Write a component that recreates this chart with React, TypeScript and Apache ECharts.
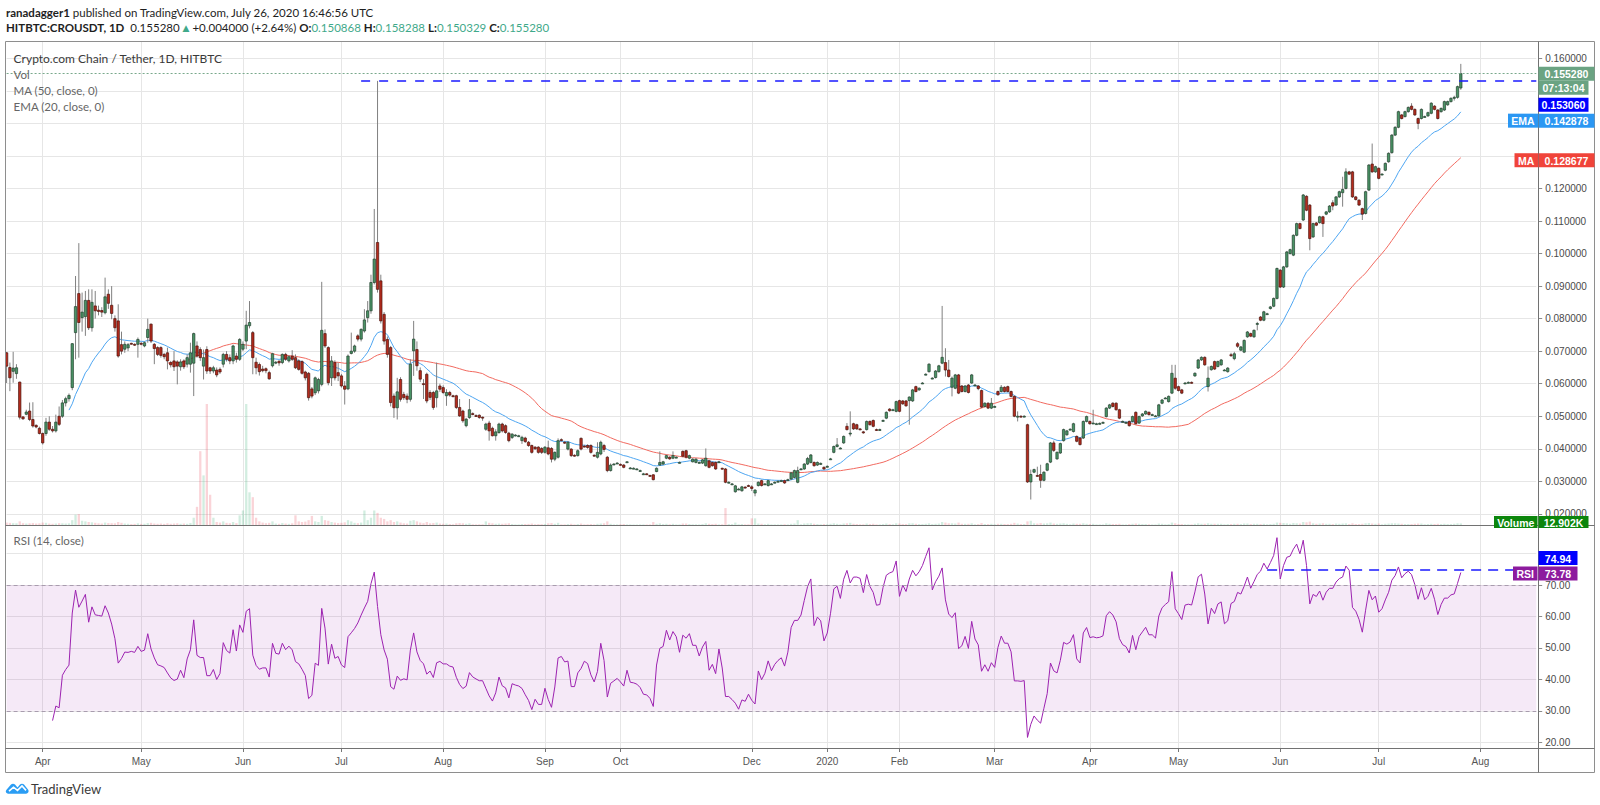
import React, { useEffect, useRef } from 'react';
import * as echarts from 'echarts';

// ---------------- time axis ----------------
const START_DATE = '2019-03-21';
const TOTAL_SLOTS = 467; // 444 daily bars + empty space to the right
const MISSING_DAYS: [string, string][] = [
  ['2019-09-09', '2019-09-15'],
  ['2019-10-25', '2019-11-14'],
  ['2019-12-10', '2019-12-17'],
  ['2020-01-08', '2020-01-16'],
  ['2020-03-06', '2020-03-06'],
  ['2020-03-25', '2020-03-25'],
  ['2020-04-14', '2020-04-16'],
];
const HIDDEN_MONTH_LABELS = ['2019-11'];
const MONTH_NAMES = ['Jan', 'Feb', 'Mar', 'Apr', 'May', 'Jun', 'Jul', 'Aug', 'Sep', 'Oct', 'Nov', 'Dec'];

// ---------------- price bars [open, high, low, close] ----------------
const bars2019Spring: number[][] = [
  [.0695,.0698,.0602,.0654],[.0650,.0665,.0577,.0618],[.0638,.0698,.0603,.0648],[.0631,.0660,.0615,.0649],
  [.0605,.0606,.0490,.0497],[.0498,.0500,.0489,.0492],[.0506,.0520,.0503,.0513],[.0516,.0542,.0485,.0490],
  [.0490,.0543,.0465,.0470],[.0472,.0475,.0463,.0467],[.0463,.0468,.0444,.0447],[.0447,.0450,.0413,.0418],
  [.0447,.0495,.0440,.0482],[.0482,.0500,.0455,.0460],[.0460,.0470,.0450,.0455],[.0455,.0505,.0450,.0482],
  [.0500,.0530,.0470,.0475],[.0500,.0550,.0495,.0541],[.0541,.0560,.0530,.0554],[.0554,.0570,.0545,.0564],
  [.0588,.0725,.0580,.0723],[.0757,.0931,.0675,.0837],[.0877,.1032,.0680,.0788],[.0803,.0880,.0760,.0820],
  [.0806,.0885,.0747,.0856],[.0856,.0890,.0765,.0772],[.0772,.0890,.0760,.0850],[.0839,.0885,.0800,.0824],
  [.0826,.0840,.0810,.0822],[.0825,.0835,.0805,.0820],[.0818,.0926,.0813,.0867],[.0875,.0890,.0830,.0847],
  [.0841,.0900,.0798,.0816],[.0800,.0810,.0760,.0772],[.0793,.0844,.0680,.0685],[.0720,.0760,.0690,.0700],
  [.0706,.0730,.0695,.0721],[.0710,.0725,.0700,.0720],[.0724,.0726,.0720,.0723],[.0721,.0724,.0716,.0720],
  [.0721,.0742,.0680,.0736],[.0724,.0728,.0718,.0723],[.0716,.0730,.0712,.0726],[.0742,.0800,.0726,.0767],
  [.0783,.0785,.0725,.0731],[.0721,.0725,.0660,.0708],[.0711,.0715,.0685,.0690],[.0711,.0715,.0680,.0687],
  [.0690,.0695,.0675,.0683],[.0695,.0711,.0644,.0670],[.0665,.0670,.0650,.0658],[.0670,.0700,.0639,.0652],
  [.0667,.0672,.0598,.0654],[.0652,.0675,.0640,.0667],[.0670,.0675,.0645,.0652],[.0660,.0690,.0650,.0680],
  [.0660,.0726,.0634,.0695],[.0663,.0757,.0562,.0754],[.0716,.0730,.0680,.0685],[.0705,.0712,.0670,.0680],
  [.0654,.0705,.0613,.0680],[.0705,.0715,.0630,.0639],[.0649,.0652,.0630,.0639],[.0639,.0655,.0632,.0649],
  [.0642,.0650,.0620,.0627],[.0644,.0650,.0630,.0636],[.0660,.0695,.0650,.0690],[.0690,.0700,.0668,.0675],
  [.0680,.0690,.0660,.0670],[.0670,.0720,.0660,.0716],[.0685,.0695,.0665,.0675],[.0675,.0740,.0670,.0736],
  [.0706,.0730,.0700,.0721],[.0731,.0824,.0706,.0780],[.0778,.0854,.0770,.0788],[.0757,.0762,.0629,.0680],
  [.0666,.0680,.0629,.0649],[.0659,.0665,.0625,.0637],[.0645,.0655,.0635,.0640],[.0646,.0650,.0632,.0640],
  [.0634,.0640,.0612,.0615],[.0655,.0695,.0650,.0692],[.0666,.0670,.0660,.0666],[.0669,.0672,.0655,.0664],
  [.0665,.0693,.0660,.0690],[.0690,.0695,.0670,.0675],[.0670,.0688,.0665,.0683],[.0685,.0703,.0670,.0675],
  [.0680,.0690,.0645,.0649],[.0670,.0675,.0640,.0644],[.0668,.0672,.0628,.0632],[.0636,.0640,.0610,.0618],
  [.0632,.0636,.0548,.0557],[.0584,.0590,.0555,.0562],[.0572,.0622,.0565,.0618],[.0578,.0618,.0570,.0613],
  [.0598,.0913,.0592,.0764],[.0754,.0767,.0710,.0716],[.0711,.0715,.0595,.0603],[.0618,.0685,.0593,.0670],
  [.0665,.0672,.0610,.0618],[.0634,.0665,.0608,.0624],[.0624,.0630,.0588,.0593],[.0593,.0608,.0536,.0583],
  [.0584,.0690,.0580,.0685],[.0693,.0757,.0690,.0700],[.0700,.0720,.0695,.0716],[.0747,.0752,.0730,.0737],
  [.0737,.0770,.0730,.0767],[.0762,.0829,.0757,.0796],[.0803,.0854,.0788,.0824],[.0824,.0935,.0815,.0911],
  [.0911,.1137,.0905,.0983],[.1034,.15306,.0880,.0890],[.0916,.0935,.0785,.0793],[.0813,.0820,.0720,.0731],
  [.0736,.0745,.0680,.0690],[.0711,.0716,.0530,.0542],[.0562,.0570,.0495,.0526],[.0526,.0618,.0490,.0575],
  [.0613,.0620,.0545,.0552],[.0567,.0575,.0550,.0557],[.0562,.0570,.0540,.0552],[.0552,.0675,.0545,.0660],
  [.0701,.0793,.0624,.0737],[.0705,.0730,.0640,.0655],
];

const bars2019Autumn: number[][] = [
  [.0640,.0650,.0605,.0614],[.0600,.0614,.0553,.0598],[.0629,.0634,.0540,.0547],[.0573,.0580,.0550,.0558],
  [.0573,.0578,.0520,.0527],[.0557,.0665,.0527,.0578],[.0593,.0600,.0575,.0583],[.0588,.0595,.0568,.0573],
  [.0563,.0583,.0532,.0573],[.0573,.0578,.0560,.0565],[.0563,.0566,.0558,.0562],[.0563,.0566,.0522,.0527],
  [.0527,.0553,.0498,.0501],[.0516,.0520,.0480,.0486],[.0471,.0495,.0466,.0491],[.0496,.0553,.0492,.0520],
  [.0508,.0512,.0503,.0507],[.0502,.0506,.0498,.0501],[.0503,.0506,.0492,.0496],[.0497,.0499,.0486,.0496],
  [.0460,.0480,.0455,.0476],[.0479,.0486,.0425,.0455],[.0463,.0468,.0438,.0440],[.0440,.0460,.0425,.0452],
  [.0450,.0480,.0446,.0476],[.0476,.0480,.0450,.0455],[.0471,.0475,.0446,.0450],[.0448,.0452,.0420,.0425],
  [.0435,.0448,.0430,.0445],[.0442,.0445,.0438,.0442],[.0440,.0443,.0436,.0440],[.0425,.0440,.0415,.0435],
  [.0433,.0437,.0418,.0422],[.0420,.0424,.0406,.0410],[.0410,.0413,.0385,.0389],[.0405,.0408,.0396,.0400],
  [.0405,.0408,.0385,.0389],[.0401,.0405,.0384,.0389],[.0389,.0408,.0385,.0405],[.0403,.0425,.0380,.0384],
  [.0401,.0405,.0358,.0368],[.0368,.0392,.0362,.0389],[.0374,.0432,.0370,.0425],[.0428,.0432,.0422,.0427],
  [.0420,.0424,.0415,.0419],[.0399,.0424,.0395,.0420],[.0399,.0402,.0375,.0379],[.0380,.0383,.0376,.0379],
  [.0379,.0398,.0376,.0394],[.0432,.0435,.0395,.0399],[.0408,.0412,.0404,.0407],[.0410,.0414,.0400,.0404],
  [.0410,.0414,.0385,.0389],[.0380,.0383,.0376,.0379],[.0374,.0420,.0370,.0389],[.0384,.0425,.0380,.0420],
  [.0410,.0415,.0390,.0398],[.0374,.0378,.0328,.0333],[.0333,.0355,.0330,.0350],[.0353,.0356,.0350,.0353],
  [.0356,.0359,.0353,.0356],[.0352,.0355,.0348,.0350],[.0350,.0353,.0340,.0343],[.0360,.0362,.0357,.0360],
  [.0341,.0344,.0338,.0341],[.0340,.0343,.0338,.0340],[.0338,.0340,.0336,.0338],[.0333,.0336,.0331,.0333],
  [.0323,.0326,.0320,.0323],[.0323,.0325,.0320,.0322],[.0318,.0320,.0315,.0317],[.0320,.0322,.0303,.0305],
  [.0330,.0343,.0328,.0340],[.0350,.0392,.0348,.0358],[.0353,.0363,.0350,.0360],[.0371,.0382,.0368,.0379],
  [.0374,.0377,.0366,.0369],[.0371,.0392,.0368,.0379],[.0374,.0377,.0371,.0374],[.0358,.0361,.0355,.0358],
  [.0392,.0395,.0374,.0377],[.0394,.0397,.0370,.0374],[.0371,.0382,.0368,.0379],[.0360,.0371,.0358,.0368],
  [.0358,.0371,.0355,.0368],[.0358,.0361,.0355,.0358],[.0356,.0369,.0353,.0366],[.0348,.0401,.0345,.0371],
  [.0363,.0366,.0340,.0343],[.0358,.0361,.0345,.0348],[.0358,.0361,.0335,.0338],[.0360,.0363,.0357,.0360],
  [.0340,.0342,.0336,.0339],[.0338,.0341,.0294,.0297],[.0297,.0300,.0294,.0297],[.0292,.0295,.0289,.0292],
  [.0268,.0289,.0265,.0286],[.0276,.0280,.0273,.0276],[.0271,.0286,.0268,.0283],[.0282,.0285,.0278,.0281],
  [.0287,.0290,.0283,.0286],[.0283,.0288,.0270,.0278],[.0264,.0276,.0254,.0273],[.0287,.0300,.0284,.0297],
  [.0302,.0305,.0284,.0287],[.0292,.0295,.0289,.0292],[.0287,.0305,.0284,.0302],[.0292,.0295,.0289,.0292],
  [.0297,.0300,.0294,.0297],[.0300,.0303,.0297,.0300],[.0302,.0305,.0299,.0302],[.0302,.0305,.0292,.0295],
  [.0305,.0308,.0302,.0305],[.0307,.0329,.0304,.0326],[.0312,.0336,.0309,.0333],[.0297,.0345,.0294,.0333],
  [.0338,.0341,.0335,.0338],[.0338,.0356,.0335,.0353],[.0353,.0375,.0350,.0370],[.0358,.0384,.0355,.0381],
  [.0358,.0361,.0345,.0348],[.0350,.0361,.0347,.0358],[.0352,.0358,.0350,.0355],[.0343,.0346,.0335,.0338],
];

const bars2020Spring: number[][] = [
  [.0346,.0349,.0343,.0346],[.0369,.0372,.0366,.0369],[.0389,.0410,.0386,.0407],[.0407,.0433,.0404,.0412],
  [.0402,.0405,.0399,.0402],[.0418,.0441,.0415,.0438],[.0469,.0479,.0456,.0459],[.0448,.0515,.0438,.0448],
  [.0477,.0480,.0458,.0461],[.0474,.0477,.0458,.0461],[.0461,.0464,.0457,.0460],[.0452,.0455,.0446,.0449],
  [.0459,.0487,.0456,.0484],[.0484,.0487,.0471,.0474],[.0487,.0490,.0466,.0469],[.0459,.0462,.0455,.0458],
  [.0459,.0462,.0456,.0459],[.0487,.0490,.0484,.0487],[.0494,.0515,.0491,.0512],[.0522,.0525,.0514,.0517],
  [.0520,.0523,.0517,.0520],[.0515,.0548,.0512,.0545],[.0548,.0551,.0512,.0515],[.0547,.0550,.0535,.0538],
  [.0547,.0550,.0529,.0532],[.0548,.0561,.0474,.0559],[.0547,.0584,.0544,.0581],[.0591,.0594,.0573,.0576],
  [.0581,.0589,.0578,.0586],[.0602,.0605,.0599,.0602],[.0629,.0632,.0626,.0629],[.0637,.0663,.0634,.0660],
  [.0617,.0620,.0614,.0617],[.0619,.0642,.0616,.0639],[.0637,.0658,.0634,.0655],[.0663,.0839,.0660,.0681],
  [.0665,.0709,.0622,.0642],[.0642,.0673,.0619,.0622],[.0589,.0622,.0561,.0617],[.0586,.0630,.0583,.0627],
  [.0627,.0630,.0568,.0571],[.0593,.0596,.0573,.0576],[.0576,.0596,.0573,.0593],[.0596,.0599,.0570,.0573],
  [.0602,.0630,.0599,.0627],[.0596,.0599,.0593,.0596],[.0593,.0596,.0580,.0585],[.0579,.0582,.0525,.0528],
  [.0530,.0543,.0527,.0540],[.0540,.0543,.0522,.0525],[.0525,.0556,.0522,.0540],[.0530,.0533,.0527,.0530],
  [.0576,.0579,.0563,.0566],[.0576,.0596,.0573,.0589],[.0589,.0592,.0573,.0576],[.0591,.0594,.0573,.0576],
  [.0576,.0579,.0558,.0561],[.0561,.0564,.0497,.0500],[.0500,.0515,.0484,.0500],[.0500,.0503,.0496,.0499],
  [.0500,.0503,.0497,.0500],[.0474,.0477,.0295,.0298],[.0298,.0336,.0244,.0321],[.0328,.0339,.0325,.0336],
  [.0318,.0345,.0314,.0317],[.0321,.0351,.0280,.0303],[.0303,.0331,.0300,.0328],[.0334,.0357,.0331,.0354],
  [.0359,.0421,.0356,.0418],[.0418,.0425,.0390,.0395],[.0369,.0392,.0366,.0389],[.0387,.0419,.0384,.0416],
  [.0425,.0462,.0422,.0459],[.0443,.0458,.0440,.0455],[.0460,.0463,.0457,.0460],[.0453,.0480,.0450,.0477],
  [.0438,.0441,.0420,.0423],[.0433,.0436,.0410,.0413],[.0433,.0487,.0430,.0484],[.0484,.0502,.0481,.0499],
  [.0484,.0487,.0474,.0477],[.0479,.0520,.0476,.0479],[.0477,.0480,.0474,.0477],[.0478,.0481,.0475,.0478],
  [.0481,.0484,.0478,.0481],[.0499,.0528,.0496,.0525],[.0525,.0538,.0522,.0535],[.0540,.0543,.0527,.0530],
  [.0540,.0543,.0517,.0520],[.0520,.0523,.0491,.0494],[.0484,.0487,.0481,.0484],[.0481,.0484,.0478,.0481],
  [.0484,.0487,.0468,.0471],[.0484,.0502,.0481,.0499],[.0512,.0515,.0474,.0477],[.0479,.0502,.0476,.0499],
  [.0501,.0510,.0498,.0507],[.0507,.0518,.0504,.0515],[.0512,.0515,.0502,.0505],[.0505,.0508,.0502,.0505],
  [.0501,.0504,.0498,.0501],[.0501,.0538,.0498,.0535],[.0540,.0553,.0537,.0550],[.0556,.0559,.0553,.0556],
  [.0545,.0564,.0542,.0561],[.0571,.0658,.0568,.0632],[.0617,.0658,.0581,.0586],[.0591,.0594,.0576,.0579],
  [.0581,.0584,.0568,.0571],[.0602,.0605,.0599,.0602],[.0604,.0607,.0601,.0604],[.0604,.0607,.0600,.0603],
  [.0624,.0635,.0621,.0632],[.0648,.0676,.0645,.0673],[.0673,.0684,.0670,.0681],[.0681,.0684,.0655,.0658],
  [.0591,.0653,.0576,.0617],[.0643,.0656,.0640,.0653],[.0668,.0671,.0642,.0645],[.0653,.0671,.0650,.0668],
  [.0658,.0676,.0655,.0673],[.0642,.0645,.0639,.0642],[.0637,.0651,.0634,.0648],
];

const bars2020Summer: number[][] = [
  [.0689,.0695,.0682,.0687],[.0677,.0698,.0672,.0692],[.0723,.0728,.0710,.0715],[.0703,.0716,.0700,.0713],
  [.0697,.0736,.0694,.0733],[.0744,.0762,.0741,.0759],[.0754,.0757,.0743,.0746],[.0744,.0767,.0741,.0764],
  [.0785,.0790,.0764,.0785],[.0805,.0808,.0792,.0795],[.0795,.0824,.0792,.0821],[.0815,.0818,.0812,.0815],
  [.0831,.0839,.0828,.0836],[.0838,.0865,.0835,.0862],[.0862,.0957,.0859,.0954],[.0949,.0952,.0894,.0897],
  [.0897,.0962,.0894,.0959],[.0959,.1008,.0956,.1005],[.1000,.1015,.0997,.1012],[.0995,.1059,.0992,.1056],
  [.1056,.1095,.1053,.1092],[.1092,.1095,.1074,.1077],[.1103,.1183,.1100,.1180],[.1176,.1179,.1130,.1133],
  [.1149,.1152,.1010,.1046],[.1051,.1095,.1048,.1092],[.1094,.1097,.1084,.1087],[.1095,.1116,.1092,.1113],
  [.1113,.1116,.1051,.1092],[.1121,.1131,.1118,.1128],[.1128,.1149,.1125,.1146],[.1156,.1164,.1133,.1146],
  [.1149,.1177,.1146,.1174],[.1174,.1193,.1171,.1190],[.1187,.1236,.1144,.1197],[.1200,.1262,.1197,.1251],
  [.1251,.1254,.1241,.1244],[.1251,.1254,.1171,.1174],[.1174,.1177,.1163,.1166],[.1164,.1167,.1146,.1149],
  [.1138,.1141,.1103,.1121],[.1123,.1193,.1120,.1190],[.1195,.1275,.1192,.1272],[.1275,.1338,.1248,.1251],
  [.1251,.1270,.1248,.1267],[.1262,.1265,.1228,.1231],[.1244,.1247,.1241,.1244],[.1256,.1280,.1253,.1277],
  [.1282,.1311,.1279,.1308],[.1310,.1367,.1307,.1364],[.1364,.1391,.1361,.1388],[.1388,.1439,.1385,.1436],
  [.1426,.1429,.1412,.1415],[.1421,.1439,.1418,.1436],[.1436,.1452,.1433,.1449],[.1453,.1462,.1440,.1443],
  [.1443,.1446,.1423,.1426],[.1415,.1418,.1382,.1400],[.1415,.1446,.1412,.1443],[.1421,.1424,.1418,.1421],
  [.1423,.1436,.1420,.1433],[.1431,.1465,.1428,.1462],[.1453,.1456,.1440,.1443],[.1441,.1444,.1412,.1415],
  [.1436,.1449,.1433,.1446],[.1441,.1470,.1438,.1467],[.1457,.1470,.1454,.1467],[.1467,.1480,.1464,.1477],
  [.1477,.1485,.1470,.1480],[.1480,.1516,.1476,.1513],[.150868,.158288,.150329,.155280],
];

// ---------------- volume (thousands) ----------------
const vol2019Spring: number[] = [
  20,18,15,14,30,15,12,14,16,12,14,20,18,12,10,12,15,14,12,14,
  40,85,90,35,30,25,22,18,14,12,20,16,15,14,25,18,12,10,8,9,
  14,9,10,16,18,12,10,12,9,14,10,12,14,10,12,10,16,60,150,610,
  410,1000,250,60,25,20,30,18,15,25,15,80,120,1000,270,230,60,30,20,15,
  18,30,12,10,16,12,10,14,80,30,25,28,40,75,30,25,75,40,35,25,
  20,16,18,22,40,30,18,15,20,120,40,60,120,100,60,50,30,40,25,30,
  20,14,12,35,40,30,
];
const vol2019Autumn: number[] = [
  20,15,25,14,16,20,12,10,12,8,6,14,16,14,10,14,6,5,6,6,
  30,18,14,10,12,10,12,14,8,5,5,8,8,9,12,6,8,7,8,14,
  16,10,18,5,5,8,10,5,8,12,5,6,8,5,10,12,14,30,10,5,
  5,6,8,5,5,4,4,5,5,4,5,25,10,14,8,10,6,10,5,5,
  12,12,8,6,6,5,8,14,10,8,10,5,6,140,8,8,20,6,8,5,
  6,55,55,12,10,6,10,5,5,5,5,6,5,10,12,40,6,12,14,15,
  10,8,6,8,
];
const vol2020Spring: number[] = [
  6,10,14,10,6,12,14,18,10,8,6,6,12,8,10,5,5,8,12,8,
  6,14,12,8,8,14,14,10,8,8,10,14,8,10,12,25,20,14,14,12,
  20,10,10,10,14,6,8,16,8,8,10,6,10,10,8,8,10,18,12,8,
  8,30,35,14,12,16,12,14,20,12,10,12,14,10,6,12,10,10,14,10,
  8,10,5,5,5,14,10,8,8,10,5,5,8,10,12,10,8,8,6,5,
  5,12,10,6,8,20,14,8,8,6,6,5,10,14,10,10,14,10,10,10,
  10,6,8,
];
const vol2020Summer: number[] = [
  8,10,10,8,12,12,8,10,10,8,10,6,8,10,20,18,16,14,10,16,
  14,12,25,22,28,14,10,12,14,10,10,8,12,10,12,14,8,14,8,8,
  10,14,16,12,10,12,6,10,12,14,14,12,10,8,8,8,10,12,12,6,
  8,10,8,10,8,10,8,8,10,14,12.902,
];

// ---------------- levels and labels ----------------
const LAST_PRICE = 0.15528;
const RESIST_LEVEL = 0.15306;
const RESIST_START_INDEX = 108;
const RSI_LEVEL = 74.94;
const RSI_LEVEL_START_INDEX = 384;
const EMA_LAST_TEXT = '0.142878';
const MA_LAST_VALUE = 0.128677;
const RSI_LAST_TEXT = '73.78';
const VOL_LAST_TEXT = '12.902K';
const COUNTDOWN_TEXT = '07:13:04';
// scale ticks hidden behind the coloured value boxes in the picture
const COVERED_PRICE_TICKS = [0.13, 0.14, 0.15];
const COVERED_RSI_TICKS = [80];

// ---------------- layout ----------------
const PRICE_MIN = 0.016576;
const PRICE_MAX = 0.165317;
const RSI_MIN = 18.2;
const RSI_MAX = 89.07;
const GRID_LEFT = 6.6;
const GRID_WIDTH = 1529.7;
const P_TOP = 41;
const P_H = 484;
const R_TOP = 525;
const R_H = 223;
const FONT = 'Lato, "Liberation Sans", sans-serif';
const AXFONT = '"Liberation Sans", Arial, sans-serif';

const UP_FILL = '#4a9466';
const UP_STROKE = '#22402e';
const DN_FILL = '#b52b1d';
const DN_STROKE = '#4c120b';

let logoRegistered = false;
function registerLogo() {
  if (logoRegistered) return;
  logoRegistered = true;
  const d =
    'M4 16 C1 16 0 13 1.5 11 L6 4.5 C7 3 9 3 10 4.5 L12.5 8 L15 4.5 C16 3 18 3 19 4.5 L23 10.5 C24.5 13 23 16 20 16 Z';
  echarts.graphic.registerShape('tvlogo', echarts.graphic.extendPath(d, {}) as any);
}

function buildDates(): string[] {
  const DAY = 86400000;
  const missing = new Set<string>();
  for (const [a, b] of MISSING_DAYS) {
    let t = Date.parse(a + 'T00:00:00Z');
    const e = Date.parse(b + 'T00:00:00Z');
    while (t <= e) {
      missing.add(new Date(t).toISOString().slice(0, 10));
      t += DAY;
    }
  }
  const out: string[] = [];
  let t = Date.parse(START_DATE + 'T00:00:00Z');
  while (out.length < TOTAL_SLOTS) {
    const s = new Date(t).toISOString().slice(0, 10);
    if (!missing.has(s)) out.push(s);
    t += DAY;
  }
  return out;
}

function smaCalc(v: number[], n: number) {
  const out: (number | null)[] = v.map(() => null);
  let s = 0;
  for (let i = 0; i < v.length; i++) {
    s += v[i];
    if (i >= n) s -= v[i - n];
    if (i >= n - 1) out[i] = s / n;
  }
  return out;
}
function emaCalc(v: number[], n: number) {
  const out: (number | null)[] = v.map(() => null);
  const a = 2 / (n + 1);
  let prev = 0;
  for (let i = 0; i < v.length; i++) {
    if (i === n - 1) {
      let s = 0;
      for (let k = 0; k < n; k++) s += v[k];
      prev = s / n;
      out[i] = prev;
    } else if (i > n - 1) {
      prev = a * v[i] + (1 - a) * prev;
      out[i] = prev;
    }
  }
  return out;
}
function rsiCalc(v: number[], n: number) {
  const out: (number | null)[] = v.map(() => null);
  let ag = 0;
  let al = 0;
  for (let i = 1; i <= n; i++) {
    const ch = v[i] - v[i - 1];
    ag += Math.max(ch, 0);
    al += Math.max(-ch, 0);
  }
  ag /= n;
  al /= n;
  out[n] = al === 0 ? 100 : 100 - 100 / (1 + ag / al);
  for (let i = n + 1; i < v.length; i++) {
    const ch = v[i] - v[i - 1];
    ag = (ag * (n - 1) + Math.max(ch, 0)) / n;
    al = (al * (n - 1) + Math.max(-ch, 0)) / n;
    out[i] = al === 0 ? 100 : 100 - 100 / (1 + ag / al);
  }
  return out;
}

function priceY(v: number) {
  return P_TOP + ((PRICE_MAX - v) / (PRICE_MAX - PRICE_MIN)) * P_H;
}

function box(x: number, y: number, w: number, h: number, fill: string, text: string) {
  return {
    type: 'group',
    z: 100,
    children: [
      { type: 'rect', z: 100, shape: { x, y, width: w, height: h }, style: { fill } },
      {
        type: 'text',
        z: 101,
        style: {
          text,
          x: x + w / 2,
          y: y + h / 2 + 0.5,
          align: 'center',
          verticalAlign: 'middle',
          textAlign: 'center',
          textVerticalAlign: 'middle',
          fill: '#ffffff',
          fontSize: 10.5,
          fontWeight: 'bold',
          fontFamily: AXFONT,
        },
      },
    ],
  };
}

function hline(x1: number, x2: number, y: number, color: string) {
  return { type: 'line', z: 90, shape: { x1, y1: y, x2, y2: y }, style: { stroke: color, lineWidth: 1 } };
}
function vline(x: number, y1: number, y2: number, color: string) {
  return { type: 'line', z: 90, shape: { x1: x, y1, x2: x, y2 }, style: { stroke: color, lineWidth: 1 } };
}
function label(text: string, x: number, y: number, size: number, color: string, extra: any = {}) {
  return {
    type: 'text',
    z: 100,
    style: {
      text,
      x,
      y,
      verticalAlign: 'middle',
      textVerticalAlign: 'middle',
      fill: color,
      fontSize: size,
      fontFamily: FONT,
      ...extra,
    },
  };
}

export default function App() {
  const ref = useRef<HTMLDivElement>(null);

  useEffect(() => {
    if (!ref.current) return;
    registerLogo();
    const chart = echarts.init(ref.current, undefined, { renderer: 'svg' });

    const dates = buildDates();
    const lastCat = dates[dates.length - 1];
    const bars = [...bars2019Spring, ...bars2019Autumn, ...bars2020Spring, ...bars2020Summer];
    const volumes = [...vol2019Spring, ...vol2019Autumn, ...vol2020Spring, ...vol2020Summer];
    const closes = bars.map((b) => b[3]);
    const ma50 = smaCalc(closes, 50);
    const ema20 = emaCalc(closes, 20);
    const rsi14 = rsiCalc(closes, 14);

    const monthLabels = new Map<number, string>();
    for (let i = 1; i < dates.length; i++) {
      const m = dates[i].slice(0, 7);
      if (m !== dates[i - 1].slice(0, 7) && !HIDDEN_MONTH_LABELS.includes(m)) {
        const mo = Number(dates[i].slice(5, 7));
        monthLabels.set(i, mo === 1 ? dates[i].slice(0, 4) : MONTH_NAMES[mo - 1]);
      }
    }
    const isMonth = (idx: number) => monthLabels.has(idx);

    const candleData = bars.map((b, i) => [i, b[0], b[1], b[2], b[3]]);
    const volData = volumes.map((v, i) => ({
      value: v,
      itemStyle: {
        color: bars[i][3] >= bars[i][0] ? 'rgba(83,185,135,0.26)' : 'rgba(235,77,92,0.24)',
      },
    }));

    const gridLine = '#e6e6e6';
    const frame = '#8e8e8e';
    const sep = '#727272';

    const xBase = {
      type: 'category',
      data: dates,
      boundaryGap: false,
      axisLine: { show: false },
      splitLine: { show: true, interval: isMonth, lineStyle: { color: gridLine, width: 1 } },
    };

    const headerRich = {
      b: { fontWeight: 'bold', fill: '#1e1e1e', color: '#1e1e1e', fontSize: 11.5, fontFamily: FONT },
      t: { fill: '#3fa98a', color: '#3fa98a', fontSize: 11.5, fontFamily: FONT },
      g: { fill: '#3fa98a', color: '#3fa98a', fontSize: 9, fontFamily: '"DejaVu Sans", sans-serif' },
    };

    const lastY = priceY(LAST_PRICE);
    const maY = priceY(MA_LAST_VALUE);

    const graphics: any[] = [
      // header
      label('{b|ranadagger1} published on TradingView.com, July 26, 2020 16:46:56 UTC', 6, 12.5, 11.5, '#1e1e1e', {
        rich: headerRich,
      }),
      label(
        '{b|HITBTC:CROUSDT, 1D}  0.155280 {g|▲} +0.004000 (+2.64%) {b|O:}{t|0.150868} {b|H:}{t|0.158288} {b|L:}{t|0.150329} {b|C:}{t|0.155280}',
        6,
        27.5,
        11.5,
        '#1e1e1e',
        { rich: headerRich }
      ),
      // frame
      hline(5.5, 1594.5, 41.5, frame),
      hline(5.5, 1594.5, 772.5, frame),
      vline(5.5, 41.5, 772.5, frame),
      vline(1594.5, 41.5, 772.5, frame),
      hline(5.5, 1594.5, 525.5, sep),
      hline(5.5, 1594.5, 748.5, sep),
      vline(1538.5, 41.5, 772.5, sep),
      // legends
      label('Crypto.com Chain / Tether, 1D, HITBTC', 13.6, 58, 12, '#3a3a3a'),
      label('Vol', 13.6, 74, 11.5, '#666666'),
      label('MA (50, close, 0)', 13.6, 90, 11.5, '#666666'),
      label('EMA (20, close, 0)', 13.6, 106, 11.5, '#666666'),
      label('RSI (14, close)', 13.6, 540, 11.5, '#666666'),
      // price scale boxes
      box(1538.5, lastY - 7, 56, 14, '#6aa382', '0.155280'),
      box(1538.5, lastY + 7, 50, 14, '#6aa382', COUNTDOWN_TEXT),
      box(1538.5, lastY + 24, 50, 14, '#0000ff', RESIST_LEVEL.toFixed(6)),
      box(1508, lastY + 40, 30, 14, '#2b97f3', 'EMA'),
      box(1538.5, lastY + 40, 56, 14, '#2b97f3', EMA_LAST_TEXT),
      box(1514.5, maY - 7, 23.5, 14, '#f0443a', 'MA'),
      box(1538.5, maY - 7, 56, 14, '#f0443a', MA_LAST_VALUE.toFixed(6)),
      box(1494, 516, 43.5, 12, '#0c860c', 'Volume'),
      box(1538.5, 516, 50, 12, '#0c860c', VOL_LAST_TEXT),
      box(1538.5, 551, 39, 14, '#0000ff', RSI_LEVEL.toFixed(2)),
      box(1513, 566.5, 24.5, 14, '#8d1b9e', 'RSI'),
      box(1538.5, 566.5, 39, 14, '#8d1b9e', RSI_LAST_TEXT),
      // TradingView logo
      { type: 'tvlogo', z: 100, x: 5, y: 781, scaleX: 1, scaleY: 0.8, style: { fill: '#2a9df4' } },
      {
        type: 'polyline',
        z: 101,
        shape: { points: [[9, 791.2], [13.5, 787.2], [17.5, 790.4], [22, 786], [26, 790.4]] },
        style: { stroke: '#ffffff', lineWidth: 1.6, fill: null },
      },
      label('TradingView', 31, 788.5, 13, '#3a3a3a'),
    ];

    const isCovered = (v: number, list: number[], eps: number) => list.some((c) => Math.abs(c - v) < eps);

    const option: any = {
      animation: false,
      backgroundColor: '#ffffff',
      textStyle: { fontFamily: FONT },
      grid: [
        { left: GRID_LEFT, width: GRID_WIDTH, top: P_TOP, height: P_H, outerBoundsMode: 'none', containLabel: false },
        { left: GRID_LEFT, width: GRID_WIDTH, top: R_TOP, height: R_H, outerBoundsMode: 'none', containLabel: false },
      ],
      xAxis: [
        { ...xBase, gridIndex: 0, axisTick: { show: false }, axisLabel: { show: false } },
        {
          ...xBase,
          gridIndex: 1,
          position: 'bottom',
          axisTick: { show: true, interval: isMonth, length: 4, lineStyle: { color: '#777' } },
          axisLabel: {
            show: true,
            interval: isMonth,
            formatter: (_v: string, idx: number) => monthLabels.get(idx) || '',
            color: '#555555',
            fontSize: 10,
            fontFamily: AXFONT,
            margin: 8,
          },
        },
      ],
      yAxis: [
        {
          type: 'value',
          gridIndex: 0,
          position: 'right',
          offset: 1.9,
          min: PRICE_MIN,
          max: PRICE_MAX,
          splitNumber: 15,
          minInterval: 0.01,
          maxInterval: 0.01,
          axisLine: { show: false },
          axisTick: { show: true, length: 4, lineStyle: { color: '#8c8c8c' } },
          axisLabel: {
            show: true,
            margin: 7,
            color: '#4a4a4a',
            fontSize: 10,
            fontFamily: AXFONT,
            showMinLabel: false,
            showMaxLabel: false,
            formatter: (v: number) => (isCovered(v, COVERED_PRICE_TICKS, 1e-6) ? '' : v.toFixed(6)),
          },
          splitLine: { show: true, lineStyle: { color: gridLine } },
        },
        { type: 'value', gridIndex: 0, min: 0, max: 4000, show: false, splitLine: { show: false } },
        {
          type: 'value',
          gridIndex: 1,
          position: 'right',
          offset: 1.9,
          min: RSI_MIN,
          max: RSI_MAX,
          splitNumber: 7,
          minInterval: 10,
          maxInterval: 10,
          axisLine: { show: false },
          axisTick: { show: true, length: 4, lineStyle: { color: '#8c8c8c' } },
          axisLabel: {
            show: true,
            margin: 7,
            color: '#4a4a4a',
            fontSize: 10,
            fontFamily: AXFONT,
            showMinLabel: false,
            showMaxLabel: false,
            formatter: (v: number) => (isCovered(v, COVERED_RSI_TICKS, 1e-3) ? '' : v.toFixed(2)),
          },
          splitLine: { show: true, lineStyle: { color: gridLine } },
        },
      ],
      series: [
        {
          name: 'Vol',
          type: 'bar',
          xAxisIndex: 0,
          yAxisIndex: 1,
          data: volData,
          barWidth: 2.3,
          silent: true,
          z: 1,
        },
        {
          name: 'MA',
          type: 'line',
          xAxisIndex: 0,
          yAxisIndex: 0,
          data: ma50,
          showSymbol: false,
          silent: true,
          lineStyle: { color: '#f26a60', width: 1 },
          z: 3,
          markLine: {
            silent: true,
            precision: 6,
            symbol: ['none', 'none'],
            label: { show: false },
            lineStyle: { type: [2, 2], color: '#79a98c', width: 1 },
            data: [[{ coord: [dates[0], LAST_PRICE] }, { coord: [lastCat, LAST_PRICE] }]],
          },
        },
        {
          name: 'EMA',
          type: 'line',
          xAxisIndex: 0,
          yAxisIndex: 0,
          data: ema20,
          showSymbol: false,
          silent: true,
          lineStyle: { color: '#4ea6f2', width: 1 },
          z: 3,
          markLine: {
            silent: true,
            precision: 6,
            symbol: ['none', 'none'],
            label: { show: false },
            lineStyle: { type: [9, 9], color: '#1a1aff', width: 1.5 },
            data: [[{ coord: [dates[RESIST_START_INDEX], RESIST_LEVEL] }, { coord: [lastCat, RESIST_LEVEL] }]],
          },
        },
        {
          name: 'Candles',
          type: 'custom',
          xAxisIndex: 0,
          yAxisIndex: 0,
          data: candleData,
          encode: { x: 0, y: [1, 2, 3, 4] },
          clip: true,
          silent: true,
          z: 4,
          renderItem: (_p: any, api: any) => {
            const i = api.value(0);
            const o = api.value(1);
            const h = api.value(2);
            const l = api.value(3);
            const c = api.value(4);
            const pO = api.coord([i, o]);
            const pC = api.coord([i, c]);
            const pH = api.coord([i, h]);
            const pL = api.coord([i, l]);
            const bw = Math.max(api.size([1, 0])[0] * 0.72, 1);
            const up = c >= o;
            const top = Math.min(pO[1], pC[1]);
            const bh = Math.max(Math.abs(pO[1] - pC[1]), 0.9);
            return {
              type: 'group',
              children: [
                {
                  type: 'line',
                  shape: { x1: pH[0], y1: pH[1], x2: pL[0], y2: pL[1] },
                  style: { stroke: '#808080', lineWidth: 1 },
                },
                {
                  type: 'rect',
                  shape: { x: pO[0] - bw / 2, y: top, width: bw, height: bh },
                  style: { fill: up ? UP_FILL : DN_FILL, stroke: up ? UP_STROKE : DN_STROKE, lineWidth: 0.7 },
                },
              ],
            };
          },
        },
        {
          name: 'RSI',
          type: 'line',
          xAxisIndex: 1,
          yAxisIndex: 2,
          data: rsi14,
          showSymbol: false,
          silent: true,
          lineStyle: { color: '#9c22b0', width: 1 },
          z: 4,
          markArea: {
            silent: true,
            itemStyle: { color: 'rgba(156,39,176,0.1)' },
            data: [[{ yAxis: 30 }, { yAxis: 70 }]],
          },
          markLine: {
            silent: true,
            precision: 4,
            symbol: ['none', 'none'],
            label: { show: false },
            data: [
              { yAxis: 70, lineStyle: { type: [4, 3], color: '#a89cae', width: 1 } },
              { yAxis: 30, lineStyle: { type: [4, 3], color: '#a89cae', width: 1 } },
              [
                {
                  coord: [dates[RSI_LEVEL_START_INDEX], RSI_LEVEL],
                  lineStyle: { type: [10, 7], color: '#1a1aff', width: 1.5 },
                },
                { coord: [lastCat, RSI_LEVEL] },
              ],
            ],
          },
        },
      ],
      graphic: { elements: graphics },
    };

    chart.setOption(option);
    return () => chart.dispose();
  }, []);

  return (
    <div
      ref={ref}
      style={{ position: 'absolute', left: 0, top: 0, width: 1600, height: 805, background: '#ffffff' }}
    />
  );
}
